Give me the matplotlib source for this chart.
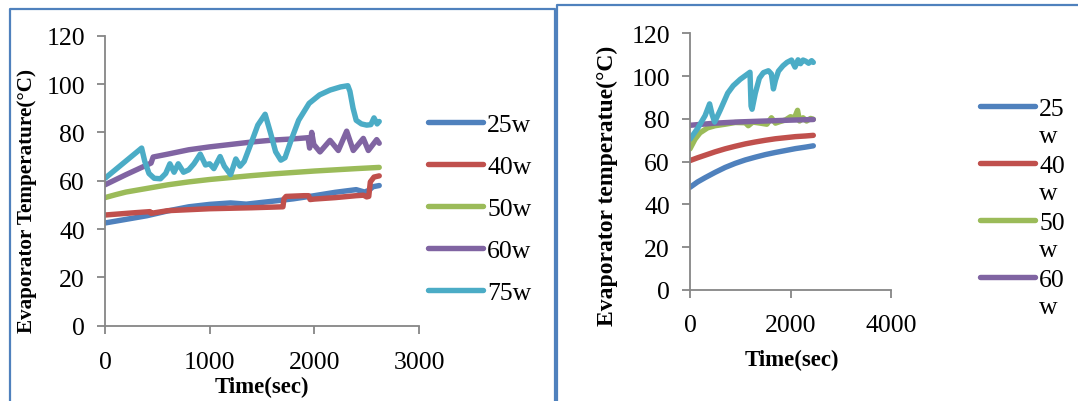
import matplotlib
matplotlib.use('Agg')
import matplotlib.pyplot as plt
from matplotlib.lines import Line2D

# ---- data -------------------------------------------------------------
labels_left = ['25w', '40w', '50w', '60w', '75w']
labels_right = ['25', '40', '50', '60']
colors = ['#4F81BD', '#C0504D', '#9BBB59', '#8064A2', '#4BACC6']

# left panel
l25_x = [0, 200, 400, 600, 800, 1000, 1200, 1350, 1600, 1800, 2000, 2200, 2400, 2480, 2520, 2560, 2620]
l25_y = [42.5, 44, 45.5, 47.5, 49.2, 50.2, 50.8, 50.3, 51.5, 52.5, 53.8, 55.2, 56.3, 55.3, 56, 57.5, 58]
l40_x = [0, 300, 430, 440, 600, 1000, 1400, 1700, 1710, 1730, 1900, 1945, 1960, 2000, 2200, 2400, 2470, 2500, 2520, 2535, 2570, 2620]
l40_y = [45.8, 46.8, 47.2, 46.5, 47.6, 48.4, 48.8, 49.2, 52.5, 53.5, 53.8, 53.8, 52.2, 52.4, 53, 53.8, 54, 53.3, 53.5, 59.5, 61.5, 62]
l50_x = [0, 100, 200, 400, 600, 800, 1000, 1200, 1400, 1600, 1800, 2000, 2200, 2400, 2620]
l50_y = [53, 54.2, 55.3, 56.8, 58.3, 59.5, 60.5, 61.3, 62.1, 62.8, 63.4, 64, 64.5, 65, 65.5]
l60_x = [0, 200, 400, 440, 460, 600, 800, 1000, 1200, 1400, 1600, 1800, 1940, 1955, 1975, 1995, 2054, 2150, 2229, 2309, 2372, 2468, 2516, 2596, 2620]
l60_y = [58.3, 62.5, 66.5, 67.3, 69.8, 71, 72.8, 74, 75, 76, 76.8, 77.3, 77.8, 73.5, 80, 75, 71.9, 76.7, 72.5, 80.5, 72.5, 77.5, 72.5, 77, 75.5]
l75_x = [0, 350, 380, 420, 470, 530, 580, 620, 660, 700, 750, 800, 850, 910, 960, 1000, 1040, 1100, 1140, 1200,
         1250, 1290, 1330, 1400, 1460, 1530, 1580, 1630, 1680, 1720, 1780, 1850, 1950, 2050, 2150, 2250, 2320, 2340,
         2370, 2400, 2450, 2500, 2540, 2570, 2600, 2620]
l75_y = [61, 73.5, 68, 63, 61, 60.8, 63, 67, 63.5, 67, 63.5, 64.5, 67, 71, 66.5, 67, 65, 70, 66, 62.5,
         69, 66, 68, 76, 83, 87.5, 80, 72, 68.5, 69.5, 77, 85, 92, 95.5, 97.5, 98.8, 99.3, 97,
         90, 85, 83.5, 83, 83.2, 86, 83.5, 84.5]

# right panel
r_x = [0, 150, 300, 500, 700, 900, 1100, 1300, 1500, 1700, 1900, 2100, 2300, 2454]
r25_y = [48, 50.5, 52.5, 55, 57.3, 59.2, 60.8, 62.1, 63.3, 64.3, 65.2, 66.1, 66.8, 67.4]
r40_y = [60.5, 61.8, 63, 64.6, 66, 67.2, 68.3, 69.2, 70, 70.7, 71.2, 71.7, 72, 72.3]
r50_x = [0, 100, 200, 350, 500, 700, 900, 1100, 1160, 1250, 1400, 1530, 1620, 1700, 1800, 1900, 2000, 2080,
         2140, 2180, 2250, 2320, 2400, 2454]
r50_y = [66, 70.5, 73.5, 75.8, 76.8, 77.5, 78.3, 78.2, 76.8, 78.5, 78, 77.5, 80.5, 78, 78.8, 79.5, 81, 80.5,
         84, 79, 80.5, 79, 80.2, 79.8]
r60_x = [0, 500, 1000, 1500, 2000, 2454]
r60_y = [77, 78, 78.6, 79, 79.4, 79.7]
r75_x = [0, 150, 300, 390, 440, 490, 600, 750, 860, 1000, 1100, 1194, 1215, 1235, 1300, 1380, 1460, 1560, 1620,
         1660, 1700, 1760, 1850, 1930, 2020, 2090, 2150, 2200, 2250, 2300, 2360, 2420, 2454]
r75_y = [70.5, 75.5, 81.5, 87, 82, 78.5, 84, 92, 95.5, 98.5, 100.2, 101.8, 86, 84.5, 92, 99, 101.6, 102.5, 101,
         94, 98, 102.3, 104.8, 106.4, 107.5, 104.2, 107.6, 105.8, 107.5, 107, 106, 107.2, 106.4]

# ---- style ------------------------------------------------------------
W, H = 1078, 402
plt.rcParams['font.family'] = ['Liberation Serif', 'DejaVu Serif']
plt.rcParams['font.size'] = 18.5
GREY = '#868686'
FRAME = '#4F81BD'
LW = 3.9

fig = plt.figure(figsize=(W / 100, H / 100), dpi=100)


def px_rect(l, r, t, b):
    return [l / W, 1 - b / H, (r - l) / W, (b - t) / H]


def style_axes(ax, xmax, xstep, xpad):
    ax.set_xlim(0, xmax)
    ax.set_ylim(0, 120)
    ax.set_xticks(range(0, xmax + 1, xstep))
    ax.set_yticks(range(0, 121, 20))
    for s in ('top', 'right'):
        ax.spines[s].set_visible(False)
    for s in ('left', 'bottom'):
        ax.spines[s].set_color(GREY)
        ax.spines[s].set_linewidth(1.3)
    ax.tick_params(axis='both', direction='out', length=5.5, width=1.3, color=GREY,
                   labelsize=18.5, labelcolor='black')
    ax.tick_params(axis='x', pad=xpad)
    ax.tick_params(axis='y', pad=9)
    ax.patch.set_visible(False)


# frames around the two panels
fig.add_artist(Line2D([10 / W, 10 / W, 555 / W, 555 / W], [0, 1 - 10 / H, 1 - 10 / H, 0],
                      color=FRAME, lw=1.6, transform=fig.transFigure))
fig.add_artist(Line2D([557 / W, 557 / W, 1], [0, 1 - 5.5 / H, 1 - 5.5 / H],
                      color=FRAME, lw=1.6, transform=fig.transFigure))

# ---- left panel -------------------------------------------------------
ax1 = fig.add_axes(px_rect(105, 419, 36.7, 326.7))
style_axes(ax1, 3000, 1000, 13)
left_series = [(l25_x, l25_y), (l40_x, l40_y), (l50_x, l50_y), (l60_x, l60_y), (l75_x, l75_y)]
for (xs, ys), c, lab in zip(left_series, colors, labels_left):
    ax1.plot(xs, ys, color=c, lw=LW, label=lab, solid_capstyle='round', solid_joinstyle='round')
ax1.set_xlabel('Time(sec)', fontweight='bold', fontsize=16.5)
ax1.set_ylabel('Evaporator Temperature(°C)', fontweight='bold', fontsize=15.2)
ax1.xaxis.label.set_va('center')
ax1.yaxis.label.set_va('center')
ax1.xaxis.set_label_coords(0.5, -0.21)
ax1.yaxis.set_label_coords((27 - 105) / 314, (327 - 201) / 290)
ax1.legend(loc='upper left', bbox_to_anchor=(428 / W, 1 - 114 / H), bbox_transform=fig.transFigure,
           frameon=False, fontsize=18.5, handlelength=2.15, handletextpad=0.15,
           labelspacing=0.74, borderpad=0, borderaxespad=0)

# ---- right panel ------------------------------------------------------
ax2 = fig.add_axes(px_rect(690, 891, 34.3, 291))
style_axes(ax2, 4000, 2000, 11.5)
right_series = [(r_x, r25_y), (r_x, r40_y), (r50_x, r50_y), (r60_x, r60_y)]
for (xs, ys), c, lab in zip(right_series, colors, labels_right):
    ax2.plot(xs, ys, color=c, lw=LW, label=lab, solid_capstyle='round', solid_joinstyle='round')
ax2.plot(r75_x, r75_y, color=colors[4], lw=LW, solid_capstyle='round', solid_joinstyle='round')
ax2.set_xlabel('Time(sec)', fontweight='bold', fontsize=16.5)
ax2.set_ylabel('Evaporator temperatue(°C)', fontweight='bold', fontsize=17)
ax2.xaxis.label.set_va('center')
ax2.yaxis.label.set_va('center')
ax2.xaxis.set_label_coords((792 - 690) / 201, (291 - 360) / 256.7)
ax2.yaxis.set_label_coords((607 - 690) / 201, (291 - 186) / 256.7)
leg2 = ax2.legend(loc='upper left', bbox_to_anchor=(980 / W, 1 - 98 / H), bbox_transform=fig.transFigure,
                  frameon=False, fontsize=18.5, handlelength=2.15, handletextpad=0.15,
                  labelspacing=1.32, borderpad=0, borderaxespad=0)

# the "w" of each right legend label wraps onto a second line
fig.canvas.draw()
for t in leg2.get_texts():
    bb = t.get_window_extent()
    fig.text(bb.x0 / W, (bb.y0 - 27.5) / H, 'w', fontsize=18.5, ha='left', va='bottom')

fig.savefig('out.png', dpi=100)
